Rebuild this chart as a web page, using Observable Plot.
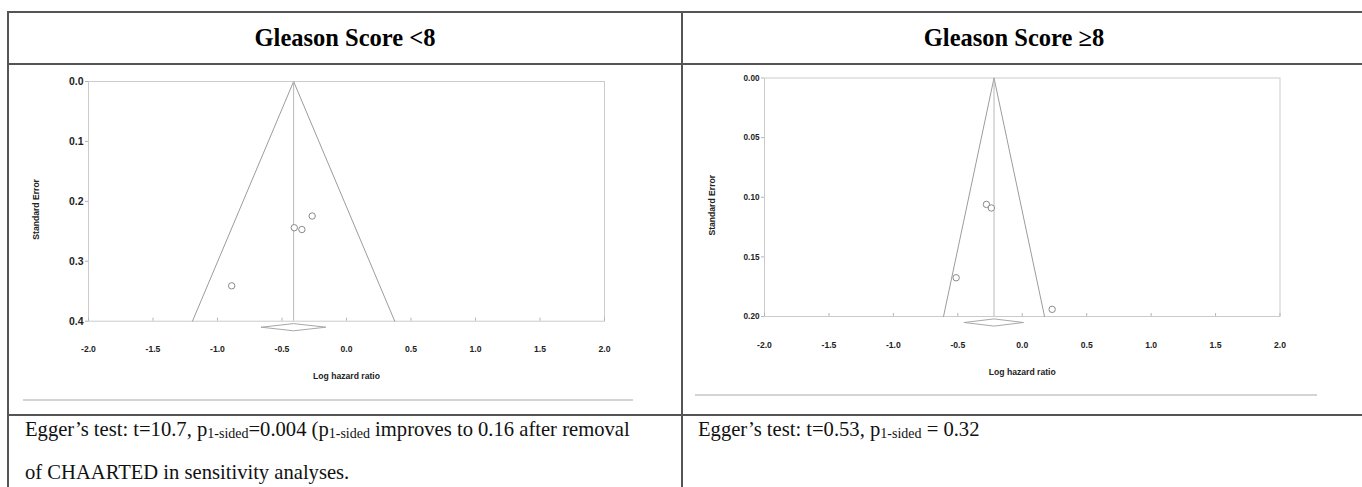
<!DOCTYPE html>
<html>
<head>
<meta charset="utf-8">
<script src="https://cdn.jsdelivr.net/npm/d3@7"></script>
<script src="https://cdn.jsdelivr.net/npm/@observablehq/plot@0.6"></script>
<style>
  html, body { margin: 0; padding: 0; background: #fff; }
  body { width: 1362px; height: 487px; position: relative; overflow: hidden; }
  .hl { position: absolute; height: 2px; background: #555; z-index: 3; }
  .vl { position: absolute; width: 2px; background: #555; z-index: 3; }
  .gl { position: absolute; height: 2px; background: #d4d4d4; z-index: 3; }
  .title { position: absolute; top: 13px; height: 50px; line-height: 50px; text-align: center;
           font-family: "Liberation Serif", "Times New Roman", serif; font-weight: bold; font-size: 24.5px; color: #000; }
  .note { position: absolute; top: 410px; font-family: "Liberation Serif", "Times New Roman", serif;
          font-size: 20.6px; line-height: 39.3px; color: #111; white-space: nowrap; }
  .note .sub { font-size: 14px; vertical-align: -2px; }
  .plot { position: absolute; top: 66px; z-index: 1; }
</style>
</head>
<body>
<div class="hl" style="left:7px; top:11px; width:1355px;"></div>
<div class="hl" style="left:7px; top:62.5px; width:1355px;"></div>
<div class="hl" style="left:7px; top:413.5px; width:1355px;"></div>
<div class="vl" style="left:7px; top:11px; height:476px;"></div>
<div class="vl" style="left:680.5px; top:11px; height:476px;"></div>
<div class="gl" style="left:23px; top:399px; width:610px;"></div>
<div class="gl" style="left:695px; top:394px; width:622px;"></div>

<div class="title" style="left:9px; width:672px;">Gleason Score &lt;8</div>
<div class="title" style="left:682px; width:664px;">Gleason Score ≥8</div>

<div class="note" style="left:25px;">Egger’s test: t=10.7, p<span class="sub">1-sided</span>=0.004 (p<span class="sub">1-sided</span> improves to 0.16 after removal<br>of CHAARTED in sensitivity analyses.</div>
<div class="note" style="left:698px;">Egger’s test: t=0.53, p<span class="sub">1-sided</span> = 0.32</div>

<div id="plotA" class="plot" style="left:0px;"></div>
<div id="plotB" class="plot" style="left:681px;"></div>

<script>
// ---- shared axis ticks ----
const xTicks = [-2.0, -1.5, -1.0, -0.5, 0.0, 0.5, 1.0, 1.5, 2.0];

// ---- Panel A: Gleason Score <8 ----
const seTicksA = [0.0, 0.1, 0.2, 0.3, 0.4];
const logHrA = [-0.266, -0.405, -0.346, -0.89];
const seA    = [0.2245, 0.244, 0.247, 0.341];
const pooledA = -0.41;
const ciA = [-0.66, -0.16];
const seMaxA = 0.4;

// ---- Panel B: Gleason Score >=8 ----
const seTicksB = [0.00, 0.05, 0.10, 0.15, 0.20];
const logHrB = [-0.278, -0.240, -0.513, 0.232];
const seB    = [0.106, 0.109, 0.1675, 0.194];
const pooledB = -0.219;
const ciB = [-0.45, 0.01];
const seMaxB = 0.20;

function funnel({logHr, se, pooled, ci, seMax, seTicks, digits, yFont, width, height, mL, mR, mT, mB}) {
  const frameH = height - mT - mB;
  const k = seMax / frameH; // data units per pixel
  const pts = logHr.map((x, i) => ({x, y: se[i]}));
  const tri = [
    {x: pooled - 1.96 * seMax, y: seMax},
    {x: pooled, y: 0},
    {x: pooled + 1.96 * seMax, y: seMax}
  ];
  const c = seMax + 6 * k, h = 3.6 * k;
  const diamond = [
    {x: ci[0], y: c}, {x: pooled, y: c - h}, {x: ci[1], y: c}, {x: pooled, y: c + h}, {x: ci[0], y: c}
  ];
  return Plot.plot({
    width, height,
    marginLeft: mL, marginRight: mR, marginTop: mT, marginBottom: mB,
    style: {background: "transparent", fontFamily: "'Liberation Sans', Arial, sans-serif", fontSize: "8.6px", fontWeight: "bold", color: "#222", overflow: "visible"},
    x: {domain: [-2, 2]},
    y: {domain: [0, seMax], reverse: true},
    marks: [
      Plot.frame({stroke: "#cbcbcb"}),
      Plot.ruleX(xTicks, {x: d => d, insetTop: frameH - 3, stroke: "#b5b5b5"}),
      Plot.axisX({ticks: xTicks, tickFormat: d => d.toFixed(1), tickSize: 0, tickPadding: 25, label: null}),
      Plot.axisY({ticks: seTicks, tickFormat: d => d.toFixed(digits), tickSize: 3, tickPadding: 2, stroke: "#b5b5b5", fontSize: yFont, label: null}),
      Plot.line(tri, {x: "x", y: "y", stroke: "#9c9c9c", strokeWidth: 1}),
      Plot.ruleX([pooled], {x: d => d, y1: 0, y2: seMax, stroke: "#b8b8b8"}),
      Plot.line(diamond, {x: "x", y: "y", stroke: "#a8a8a8", strokeWidth: 1}),
      Plot.dot(pts, {x: "x", y: "y", r: 3.2, stroke: "#8a8a8a", fill: "white", strokeWidth: 1}),
      Plot.text(["Standard Error"], {text: d => d, frameAnchor: "left", textAnchor: "middle", dx: -52, dy: 8, rotate: -90, fill: "#222"}),
      Plot.text(["Log hazard ratio"], {text: d => d, frameAnchor: "bottom", textAnchor: "middle", dy: 58, fill: "#222"})
    ]
  });
}

document.getElementById("plotA").appendChild(funnel({
  logHr: logHrA, se: seA, pooled: pooledA, ci: ciA, seMax: seMaxA, seTicks: seTicksA, digits: 1, yFont: 10.5,
  width: 680, height: 330, mL: 88, mR: 76, mT: 15, mB: 75.3
}));
document.getElementById("plotB").appendChild(funnel({
  logHr: logHrB, se: seB, pooled: pooledB, ci: ciB, seMax: seMaxB, seTicks: seTicksB, digits: 2, yFont: 8.2,
  width: 680, height: 330, mL: 83, mR: 81.5, mT: 11.5, mB: 80
}));
</script>
</body>
</html>
